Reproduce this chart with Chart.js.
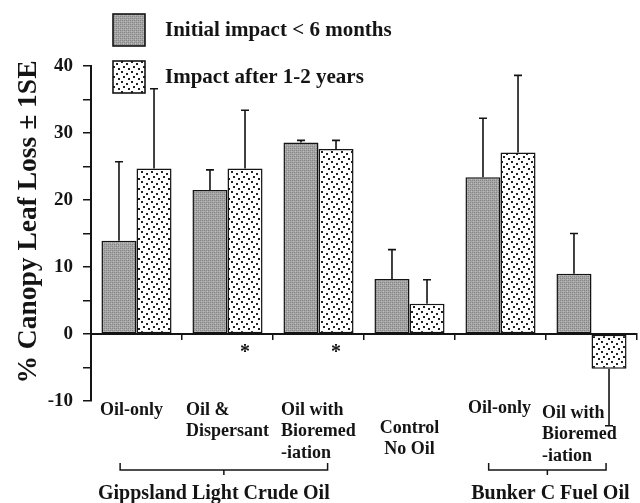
<!DOCTYPE html>
<html lang="en">
<head>
<meta charset="UTF-8">
<meta name="viewport" content="width=device-width, initial-scale=1.0">
<title>Canopy Leaf Loss</title>
<!-- Chart.js -->
<script src="https://cdn.jsdelivr.net/npm/chart.js"></script>
<style>
    html, body { margin: 0; padding: 0; background: #fff; }
    #wrap { width: 640px; height: 503px; }
</style>
</head>
<body>
<div id="wrap"><canvas id="leafChart"></canvas></div>

<script>
    // treatments, one label line per entry
    var categories = [
        ['Oil-only'],
        ['Oil &', 'Dispersant'],
        ['Oil with', 'Bioremed', '-iation'],
        ['Control', 'No Oil'],
        ['Oil-only'],
        ['Oil with', 'Bioremed', '-iation']
    ];
    var seriesNames = ['Initial impact < 6 months', 'Impact after 1-2 years'];

    // % canopy leaf loss and 1 SE
    var initialLoss = [13.9, 21.5, 28.6, 8.2, 23.4, 9.0];
    var initialSE   = [11.8, 3.0, 0.3, 4.4, 8.8, 6.0];
    var laterLoss   = [24.7, 24.7, 27.6, 4.5, 27.1, -5.2];
    var laterSE     = [11.9, 8.7, 1.3, 3.6, 11.5, 8.5];
    var laterStar   = [false, true, true, false, false, false];

    // oil types spanning several treatments (in category units)
    var oilGroups = [
        { name: 'Gippsland Light Crude Oil', from: -0.18, to: 2.1 },
        { name: 'Bunker C Fuel Oil', from: 3.87, to: 5.16 }
    ];

    var yMin = -10, yMax = 40, yStep = 5;

    var FONT = '"Liberation Serif", "Times New Roman", serif';
    var INK = '#141414';

    // fill patterns
    function grayPattern() {
        var c = document.createElement('canvas');
        c.width = 4; c.height = 4;
        var g = c.getContext('2d');
        g.fillStyle = '#a6a6a6';
        g.fillRect(0, 0, 4, 4);
        g.fillStyle = '#858585';
        g.fillRect(0, 0, 1, 1); g.fillRect(2, 2, 1, 1);
        g.fillRect(2, 0, 1, 1); g.fillRect(0, 2, 1, 1);
        g.fillStyle = '#bdbdbd';
        g.fillRect(1, 1, 1, 1); g.fillRect(3, 3, 1, 1);
        return g.createPattern(c, 'repeat');
    }
    function dotPattern() {
        var c = document.createElement('canvas');
        c.width = 10; c.height = 10;
        var g = c.getContext('2d');
        g.fillStyle = '#ffffff';
        g.fillRect(0, 0, 10, 10);
        g.fillStyle = '#222';
        g.fillRect(1, 1, 2, 2);
        g.fillRect(6, 3, 2, 2);
        g.fillRect(3, 6, 2, 2);
        g.fillRect(8, 8, 2, 2);
        return g.createPattern(c, 'repeat');
    }
    var grayFill = grayPattern();
    var dotFill = dotPattern();

    // error bars, asterisks, labels, legend, brackets
    var extras = {
        id: 'extras',
        afterDatasetsDraw: function(chart) {
            var ctx = chart.ctx;
            var ys = chart.scales.y;
            var errs = [initialSE, laterSE];
            ctx.save();
            ctx.strokeStyle = INK;
            ctx.lineWidth = 1.6;
            errs.forEach(function(se, d) {
                var meta = chart.getDatasetMeta(d);
                meta.data.forEach(function(bar, i) {
                    var v = chart.data.datasets[d].data[i];
                    var end = v >= 0 ? v + se[i] : v - se[i];
                    var yEnd = ys.getPixelForValue(end);
                    ctx.beginPath();
                    ctx.moveTo(bar.x, bar.y);
                    ctx.lineTo(bar.x, yEnd);
                    ctx.moveTo(bar.x - 4, yEnd);
                    ctx.lineTo(bar.x + 4, yEnd);
                    ctx.stroke();
                });
            });

            // significance marks under the later bars
            ctx.fillStyle = INK;
            ctx.font = 'bold 20px ' + FONT;
            ctx.textAlign = 'center';
            ctx.textBaseline = 'middle';
            var meta1 = chart.getDatasetMeta(1);
            laterStar.forEach(function(s, i) {
                if (s) ctx.fillText('*', meta1.data[i].x, ys.getPixelForValue(0) + 19);
            });
            ctx.restore();
        },
        afterDraw: function(chart) {
            var ctx = chart.ctx;
            var xs = chart.scales.x;
            var ca = chart.chartArea;
            ctx.save();
            ctx.fillStyle = INK;
            ctx.strokeStyle = INK;

            // treatment labels
            var half = (xs.getPixelForValue(1) - xs.getPixelForValue(0)) / 2;
            var dx = [9, 4, 8, 0, 13, -4];
            var dy = [9, 9, 9, 27, 7, 12];
            ctx.font = 'bold 18px ' + FONT;
            ctx.textBaseline = 'middle';
            categories.forEach(function(lines, i) {
                var cx = xs.getPixelForValue(i);
                var centred = lines[0] === 'Control';
                ctx.textAlign = centred ? 'center' : 'left';
                var x0 = centred ? cx : cx - half + dx[i];
                lines.forEach(function(t, k) {
                    ctx.fillText(t, x0, ca.bottom + dy[i] + k * 21.5);
                });
            });

            // brackets under oil types
            var by = 470;
            var shift = [-10, 3];
            ctx.lineWidth = 1.5;
            ctx.font = 'bold 20px ' + FONT;
            ctx.textAlign = 'center';
            oilGroups.forEach(function(g, n) {
                var x1 = xs.getPixelForValue(g.from);
                var x2 = xs.getPixelForValue(g.to);
                var mid = (x1 + x2) / 2;
                ctx.beginPath();
                ctx.moveTo(x1, by - 7);
                ctx.lineTo(x1, by);
                ctx.lineTo(x2, by);
                ctx.lineTo(x2, by - 7);
                ctx.moveTo(mid, by);
                ctx.lineTo(mid, by + 5);
                ctx.stroke();
                ctx.fillText(g.name, mid + shift[n], by + 24);
            });

            // legend
            var fills = [grayFill, dotFill];
            var ly = [14, 61];
            ctx.font = 'bold 21px ' + FONT;
            ctx.textAlign = 'left';
            seriesNames.forEach(function(name, d) {
                ctx.fillStyle = fills[d];
                ctx.fillRect(113, ly[d], 32, 32);
                ctx.lineWidth = 1.6;
                ctx.strokeRect(113, ly[d], 32, 32);
                ctx.fillStyle = INK;
                ctx.fillText(name, 165, ly[d] + 17);
            });

            // y axis title
            ctx.translate(29, 222);
            ctx.rotate(-Math.PI / 2);
            ctx.textAlign = 'center';
            ctx.font = 'bold 27.5px ' + FONT;
            ctx.fillText('% Canopy Leaf Loss \u00b1 1SE', 0, 0);
            ctx.restore();
        }
    };

    var ctx = document.getElementById('leafChart').getContext('2d');
    var leafChart = new Chart(ctx, {
        type: 'bar',
        data: {
            labels: categories,
            datasets: [{
                label: seriesNames[0],
                data: initialLoss,
                backgroundColor: grayFill,
                borderColor: INK,
                borderWidth: 1.5,
                borderSkipped: false
            }, {
                label: seriesNames[1],
                data: laterLoss,
                backgroundColor: dotFill,
                borderColor: INK,
                borderWidth: 1.5,
                borderSkipped: false
            }]
        },
        options: {
            responsive: true,
            maintainAspectRatio: false,
            animation: false,
            layout: { padding: { left: 0, right: 3, top: 66, bottom: 102 } },
            datasets: { bar: { categoryPercentage: 0.77, barPercentage: 1.0 } },
            plugins: {
                legend: { display: false },
                tooltip: { enabled: false }
            },
            scales: {
                x: {
                    position: { y: 0 },
                    ticks: { display: false },
                    grid: {
                        drawOnChartArea: false,
                        offset: true,
                        tickLength: 5,
                        color: INK,
                        lineWidth: 1.5
                    },
                    border: { color: INK, width: 2 },
                    afterFit: function(s) { s.height = 0; }
                },
                y: {
                    min: yMin,
                    max: yMax,
                    ticks: {
                        stepSize: yStep,
                        padding: 10,
                        color: INK,
                        font: { family: FONT, size: 19, weight: 'bold' },
                        callback: function(v) { return v % 10 === 0 ? v : ''; }
                    },
                    grid: {
                        drawOnChartArea: false,
                        tickLength: 8,
                        color: INK,
                        lineWidth: 1.5
                    },
                    border: { color: INK, width: 2 },
                    afterFit: function(s) { s.width = 91; }
                }
            }
        },
        plugins: [extras]
    });
</script>
</body>
</html>
